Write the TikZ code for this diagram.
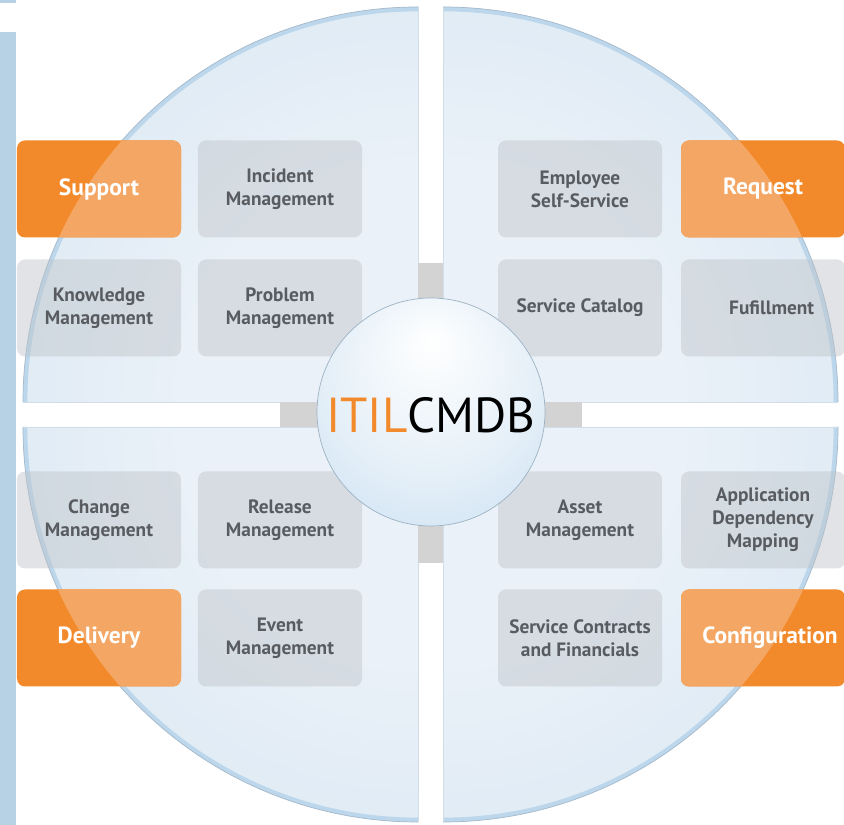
\documentclass[tikz,border=0pt]{standalone}
\usepackage{fontspec}
\setmainfont{PT Sans}

\definecolor{itilorange}{HTML}{F28A2B}
\definecolor{orangelight}{HTML}{F4A764}
\definecolor{boxgray}{HTML}{BEC3C8}
\definecolor{boxtext}{HTML}{585C61}
\definecolor{sidebar}{HTML}{B7D1E5}
\definecolor{crossgray}{HTML}{D3D3D3}
\definecolor{qin}{HTML}{EAF1F8}
\definecolor{qmid}{HTML}{D3E3F1}
\definecolor{qrim}{HTML}{BCD6EC}
\definecolor{qedge}{HTML}{A6BACB}
\definecolor{sphA}{HTML}{E6F0F8}
\definecolor{sphB}{HTML}{BAD7EF}
\definecolor{sphedge}{HTML}{9DB2C3}

\pgfdeclareradialshading{quadglass}{\pgfpoint{0bp}{0bp}}{color(0bp)=(qin); color(15bp)=(qin); color(40bp)=(qmid); color(50bp)=(qmid)}
\pgfdeclareradialshading{sphereglass}{\pgfpoint{0bp}{16bp}}{color(0bp)=(white); color(22bp)=(sphA); color(50bp)=(sphB)}

\tikzset{
  graybox/.style={fill=boxgray, fill opacity=0.45, text opacity=1, text=boxtext,
    rounded corners=0.24cm, inner sep=0pt, minimum width=4.92cm, minimum height=2.91cm,
    align=center, font=\fontsize{16.5}{19.5}\selectfont\bfseries},
  orangebox/.style={fill=itilorange, text=white,
    rounded corners=0.24cm, inner sep=0pt, minimum width=4.92cm, minimum height=2.91cm,
    align=center, font=\fontsize{20}{22}\selectfont\bfseries,
    path picture={\fill[orangelight] (#1) circle[radius=395];}},
}

\begin{document}
\begin{tikzpicture}[x=0.03cm,y=0.03cm]
        \useasboundingbox (0,0) rectangle (844,825);
        \fill[white] (0,0) rectangle (844,825);

        % side bar
        \fill[sidebar] (0,0) rectangle (16,793);
        \fill[sidebar] (0,822) rectangle (16,825);

        % quadrant corners and centre
        \coordinate (qTL) at (418,423);
        \coordinate (qTR) at (443,423);
        \coordinate (qBL) at (418,398);
        \coordinate (qBR) at (443,398);
        \coordinate (sph) at (431,413);

        % four glass quadrants
        \foreach \c/\a in {qTL/90,qTR/0,qBL/180,qBR/270}
        {
          \begin{scope}
            \clip (\c) -- ++(\a:395) arc[start angle=\a,delta angle=90,radius=395] -- cycle;
            \shade[shading=quadglass] (\c) circle[radius=395];
            \draw[qrim,line width=0.2cm] (\c) circle[radius=394];
          \end{scope}
          \draw[qedge!50,line width=0.4pt] (\c) -- ++(\a:395);
          \draw[qedge!50,line width=0.4pt] (\c) -- ++(\a+90:395);
          \draw[qedge,line width=0.6pt] (\c) ++(\a:395) arc[start angle=\a,delta angle=90,radius=395];
        }

        % cross behind the sphere
        \fill[crossgray] (280,398) rectangle (582,423);
        \fill[crossgray] (418,262) rectangle (443,562);

        % boxes
        \node[orangebox=qTL] (support) at (99,636) {Support};
        \node[graybox] (incident) at (280,636) {Incident\\Management};
        \node[graybox] (employee) at (580,636) {Employee\\Self-Service};
        \node[orangebox=qTR] (request) at (763,636) {Request};

        \node[graybox] (knowledge) at (99,517) {Knowledge\\Management};
        \node[graybox] (problem) at (280,517) {Problem\\Management};
        \node[graybox] (catalog) at (580,517) {Service Catalog};
        \node[graybox] (fulfillment) at (763,517) {\hspace*{0.9em}Fufillment};

        \node[graybox] (change) at (99,305) {Change\\Management};
        \node[graybox] (release) at (280,305) {Release\\Management};
        \node[graybox] (asset) at (580,305) {Asset\\Management};
        \node[graybox] (appmap) at (763,305) {Application\\Dependency\\Mapping};

        \node[orangebox=qBL] (delivery) at (99,187) {Delivery};
        \node[graybox] (event) at (280,187) {Event\\Management};
        \node[graybox] (contracts) at (580,187) {Service Contracts\\and Financials};
        \node[orangebox=qBR] (configuration) at (763,187) {\hspace*{0.6em}Configuration};

        % central sphere
        \shade[shading=sphereglass] (sph) circle[radius=114];
        \draw[sphedge,line width=0.6pt] (sph) circle[radius=114];
        \node[font=\fontsize{42}{42}\selectfont] (cmdb) at (431,410)
          {\textcolor{itilorange}{ITIL}CMDB};
      \end{tikzpicture}
\end{document}
